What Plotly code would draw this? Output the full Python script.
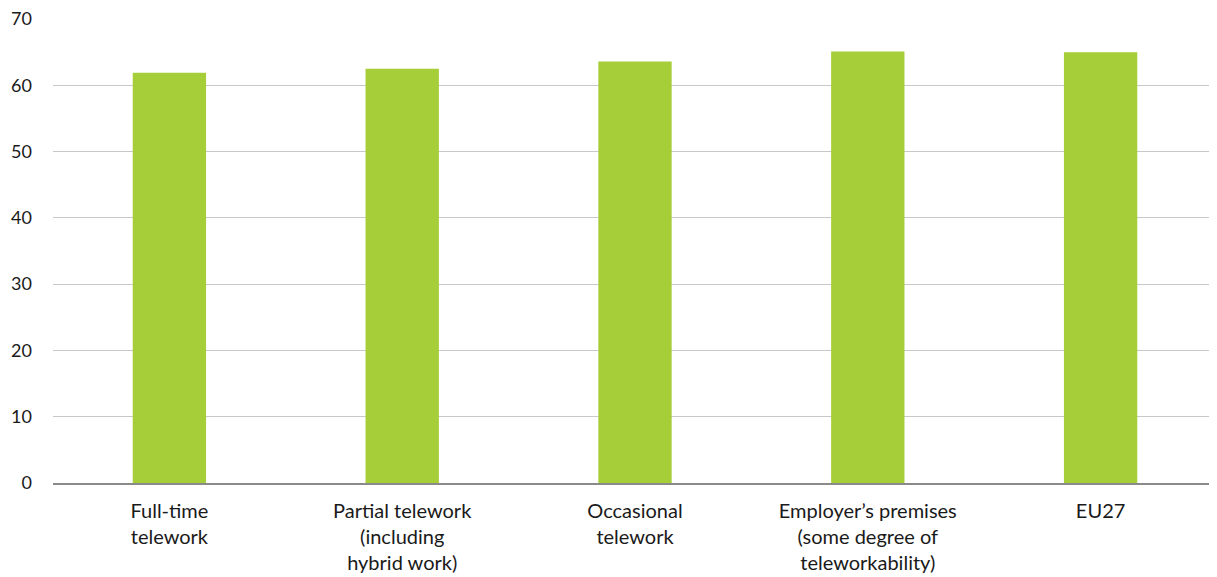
import plotly.graph_objects as go

categories = [
    "Full-time<br>telework",
    "Partial telework<br>(including<br>hybrid work)",
    "Occasional<br>telework",
    "Employer’s premises<br>(some degree of<br>teleworkability)",
    "EU27",
]
values = [61.9, 62.5, 63.6, 65.1, 65.0]
y_ticks = [0, 10, 20, 30, 40, 50, 60, 70]

fig = go.Figure(
    go.Bar(
        x=categories,
        y=values,
        marker=dict(color="#A6CE39", line=dict(width=0)),
        hoverinfo="x+y",
    )
)

# page body has an 8px default margin, so the figure is sized to fit the window
fig.update_layout(
    width=1209,
    height=569,
    margin=dict(l=45, r=0, t=11, b=94, autoexpand=False),
    plot_bgcolor="white",
    paper_bgcolor="white",
    bargap=0.685,
    showlegend=False,
    font=dict(family="Lato, 'Noto Sans', sans-serif", size=20, color="#1a1a1a"),
)
fig.update_xaxes(
    showline=True,
    linecolor="#8a8a8a",
    linewidth=1.5,
    ticks="",
    tickfont=dict(size=20),
    ticklabelstandoff=9,
    showgrid=False,
    automargin=False,
)
fig.update_yaxes(
    range=[0, 70],
    tickvals=y_ticks,
    showgrid=True,
    gridcolor="#c8c8c8",
    gridwidth=1,
    zeroline=False,
    ticks="",
    ticklabelstandoff=20,
    ticklabeloverflow="allow",
    tickfont=dict(size=18),
    automargin=False,
)

fig.write_html("out.html")
